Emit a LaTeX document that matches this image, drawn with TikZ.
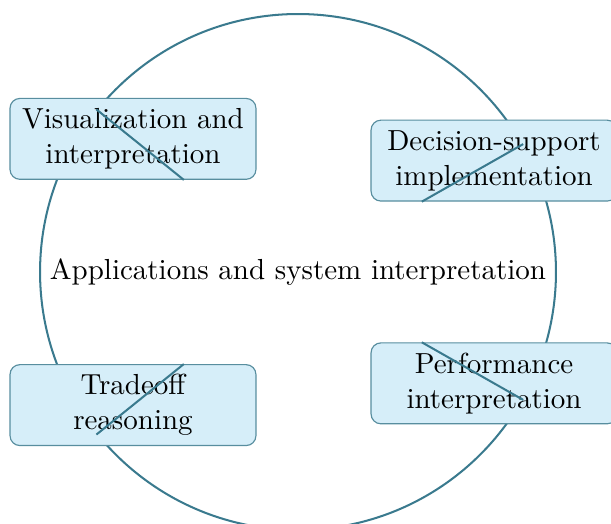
\documentclass[tikz,border=0pt]{standalone}
\definecolor{rimblue}{RGB}{58,122,142}
\definecolor{boxfill}{RGB}{214,238,249}
\begin{document}
\begin{tikzpicture}[hub/.style = {draw=rimblue, circle, line width=0.7pt, minimum size=177.9pt, inner sep=0pt}, box/.style = {draw=rimblue!85, fill=boxfill, rounded corners=3.4pt, align=center, minimum width=84.8pt, minimum height=27.9pt, inner sep=2pt}, link/.style = {draw=rimblue, line width=0.7pt}]
			\useasboundingbox (-102.76pt,-86.9pt) rectangle (107.93pt,93.79pt);
			\node[hub] (hub) at (0,0) {Applications and system interpretation};
			\node[box] (vis) at (-56.9pt,45.9pt) {Visualization and\\interpretation};
			\node[box] (dec) at (67.59pt,38.4pt) {Decision-support\\implementation};
			\node[box] (trade) at (-56.9pt,-45.9pt) {Tradeoff\\reasoning};
			\node[box] (perf) at (67.59pt,-38.4pt) {Performance\\interpretation};
			\draw[link] (hub) -- (vis);
			\draw[link] (hub) -- (dec);
			\draw[link] (hub) -- (trade);
			\draw[link] (hub) -- (perf);
		\end{tikzpicture}
\end{document}
